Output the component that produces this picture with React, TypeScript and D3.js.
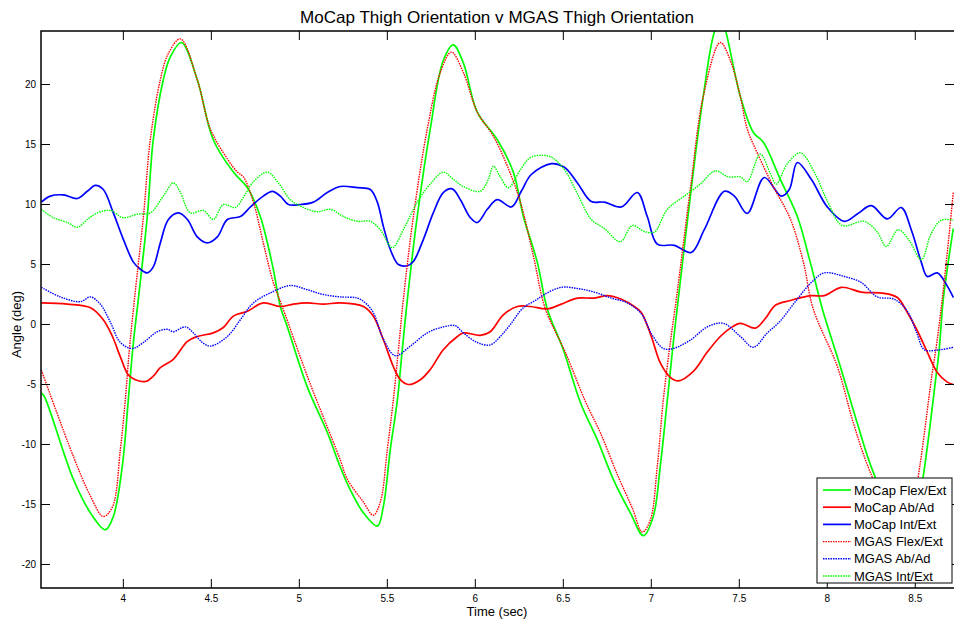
import React from "react";
import * as d3 from "d3";

// samples: [time (sec), angle (deg)]
const flexMocap: [number, number][] = [
  [3.534, -5.7], [3.551, -6.0], [3.716, -12.9], [3.813, -15.7], [3.898, -17.1], [3.943, -16.0],
  [3.994, -11.8], [4.028, -6.3], [4.057, -1.5], [4.085, 2.1], [4.136, 9.0], [4.17, 15.4],
  [4.227, 20.4], [4.267, 22.3], [4.33, 23.5], [4.42, 20.4], [4.511, 15.4], [4.625, 12.7], [4.705, 11.4],
  [4.778, 9.0], [4.852, 4.6], [4.892, 1.5], [4.932, -0.2], [5.045, -5.2], [5.159, -9.0],
  [5.233, -11.9], [5.29, -13.8], [5.364, -15.7], [5.443, -16.8], [5.477, -15.2], [5.517, -10.4],
  [5.557, -6.3], [5.585, -2.1], [5.614, 2.1], [5.67, 9.0], [5.744, 16.3], [5.818, 22.0],
  [5.875, 23.3], [5.932, 21.8], [6.011, 17.7], [6.125, 15.4], [6.216, 12.7], [6.273, 9.0],
  [6.352, 5.2], [6.409, 1.3], [6.5, -2.1], [6.597, -6.5], [6.693, -9.6], [6.784, -12.9],
  [6.881, -15.7], [6.955, -17.6], [7.011, -16.0], [7.051, -11.8], [7.091, -6.3], [7.125, -1.5],
  [7.153, 2.1], [7.222, 10.7], [7.295, 19.0], [7.364, 24.6], [7.4, 25.3], [7.42, 24.6],
  [7.506, 19.0], [7.58, 16.0], [7.636, 15.2], [7.733, 12.1], [7.83, 9.0], [7.903, 5.2],
  [7.972, 1.3], [8.074, -3.5], [8.17, -8.2], [8.261, -12.3], [8.443, -18.0], [8.625, -3.5],
  [8.659, 2.1], [8.716, 8.0],
];

const abadMocap: [number, number][] = [
  [3.534, 1.8], [3.682, 1.7], [3.813, 1.4], [3.886, 0.4], [3.938, -1.0], [3.983, -2.7],
  [4.028, -4.2], [4.068, -4.6], [4.125, -4.75], [4.17, -4.3], [4.21, -3.6], [4.284, -2.9],
  [4.364, -1.4], [4.42, -1.0], [4.511, -0.7], [4.568, -0.25], [4.625, 0.7], [4.705, 1.1],
  [4.795, 1.8], [4.892, 1.5], [4.966, 1.7], [5.045, 1.8], [5.136, 1.7], [5.233, 1.8],
  [5.364, 1.5], [5.42, 0.7], [5.477, -1.25], [5.534, -3.5], [5.574, -4.6], [5.619, -5.0],
  [5.688, -4.6], [5.744, -3.75], [5.818, -2.1], [5.898, -1.0], [5.932, -0.7], [6.028, -0.9],
  [6.085, -0.6], [6.159, 0.8], [6.239, 1.5], [6.312, 1.5], [6.409, 1.3], [6.489, 1.7],
  [6.58, 2.2], [6.676, 2.2], [6.75, 2.4], [6.83, 2.1], [6.903, 1.5], [6.943, 1.0],
  [7.0, -1.0], [7.051, -3.2], [7.108, -4.4], [7.153, -4.7], [7.239, -3.9], [7.318, -2.3],
  [7.392, -1.0], [7.449, -0.3], [7.506, 0.1], [7.591, -0.3], [7.648, 0.5], [7.705, 1.6],
  [7.79, 2.0], [7.909, 2.4], [7.983, 2.4], [8.08, 3.1], [8.193, 2.7], [8.324, 2.6],
  [8.398, 2.25], [8.455, 1.0], [8.511, -0.5], [8.568, -2.3], [8.625, -4.0], [8.682, -4.8],
  [8.716, -5.0],
];

const intextMocap: [number, number][] = [
  [3.534, 10.2], [3.585, 10.7], [3.659, 10.8], [3.739, 10.5], [3.795, 11.1], [3.841, 11.6],
  [3.886, 11.25], [3.943, 9.3], [4.0, 7.1], [4.057, 5.2], [4.097, 4.6], [4.136, 4.3],
  [4.17, 4.8], [4.21, 6.8], [4.256, 8.75], [4.313, 9.3], [4.364, 8.75], [4.42, 7.3],
  [4.477, 6.8], [4.534, 7.3], [4.591, 8.75], [4.665, 9.0], [4.722, 9.8], [4.795, 10.7],
  [4.847, 11.1], [4.892, 10.7], [4.938, 10.0], [5.006, 10.0], [5.08, 10.2], [5.159, 11.0],
  [5.233, 11.5], [5.33, 11.4], [5.403, 11.25], [5.443, 10.2], [5.477, 8.2], [5.517, 6.25],
  [5.563, 5.0], [5.614, 4.9], [5.648, 5.25], [5.705, 7.1], [5.761, 9.3], [5.818, 11.0],
  [5.869, 11.3], [5.915, 10.4], [5.972, 8.9], [6.011, 8.5], [6.068, 9.6], [6.125, 10.4],
  [6.205, 9.8], [6.261, 11.1], [6.318, 12.5], [6.432, 13.4], [6.506, 13.1], [6.58, 11.8],
  [6.659, 10.25], [6.733, 10.2], [6.83, 9.8], [6.92, 11.0], [6.977, 9.0], [7.034, 6.7],
  [7.131, 6.6], [7.227, 6.0], [7.301, 7.9], [7.415, 11.1], [7.472, 10.7], [7.545, 9.25],
  [7.642, 12.25], [7.739, 10.7], [7.784, 11.25], [7.83, 13.5], [7.909, 12.1], [8.0, 9.8],
  [8.097, 8.6], [8.17, 9.2], [8.25, 9.9], [8.341, 8.8], [8.42, 9.75], [8.477, 7.9],
  [8.534, 5.2], [8.568, 4.0], [8.625, 4.3], [8.682, 3.2], [8.716, 2.25],
];

const flexMgas: [number, number][] = [
  [3.534, -3.8], [3.716, -11.0], [3.813, -14.3], [3.886, -16.0], [3.938, -15.2], [3.983, -10.4],
  [4.011, -6.3], [4.034, -2.1], [4.063, 2.1], [4.114, 9.0], [4.153, 15.4], [4.21, 20.4],
  [4.256, 22.6], [4.324, 23.8], [4.42, 20.4], [4.494, 16.3], [4.591, 13.8], [4.648, 12.7], [4.682, 12.3],
  [4.739, 10.2], [4.795, 6.8], [4.852, 3.5], [4.903, 1.5], [5.045, -4.3], [5.136, -7.7],
  [5.233, -11.3], [5.273, -12.9], [5.364, -14.8], [5.42, -15.9], [5.46, -14.8], [5.5, -10.4],
  [5.534, -6.3], [5.563, -2.1], [5.591, 2.1], [5.648, 9.0], [5.727, 16.3], [5.801, 21.0],
  [5.864, 22.7], [5.932, 21.0], [6.011, 17.7], [6.102, 15.7], [6.182, 13.2], [6.256, 10.2],
  [6.33, 5.7], [6.398, 1.3], [6.511, -2.3], [6.625, -6.4], [6.71, -9.0], [6.807, -12.5],
  [6.892, -15.3], [6.949, -17.3], [6.994, -16.3], [7.034, -11.8], [7.068, -6.3], [7.108, -1.5],
  [7.142, 2.1], [7.222, 11.3], [7.295, 19.0], [7.392, 23.5], [7.449, 22.0], [7.506, 19.0],
  [7.545, 16.3], [7.602, 14.3], [7.693, 11.5], [7.79, 8.8], [7.864, 5.2], [7.92, 1.3],
  [8.057, -3.5], [8.148, -8.2], [8.244, -12.3], [8.42, -17.5], [8.602, -3.5], [8.653, 2.1],
  [8.716, 11.0],
];

const abadMgas: [number, number][] = [
  [3.534, 3.1], [3.642, 2.3], [3.756, 1.9], [3.813, 2.3], [3.869, 1.7], [3.926, 0.2],
  [3.983, -1.5], [4.051, -2.0], [4.114, -1.5], [4.193, -0.6], [4.25, -0.4], [4.284, -0.6],
  [4.352, -0.2], [4.398, -0.7], [4.449, -1.5], [4.494, -1.8], [4.591, -1.0], [4.665, 0.4],
  [4.739, 1.8], [4.852, 2.75], [4.949, 3.25], [5.045, 2.9], [5.136, 2.5], [5.233, 2.3],
  [5.33, 2.2], [5.375, 1.8], [5.42, 1.0], [5.477, -1.2], [5.545, -2.6], [5.631, -1.8],
  [5.727, -0.7], [5.818, -0.2], [5.886, -0.1], [5.932, -0.7], [6.011, -1.5], [6.085, -1.7],
  [6.142, -1.0], [6.199, 0.0], [6.273, 1.4], [6.341, 2.0], [6.392, 2.5], [6.489, 3.1],
  [6.58, 3.0], [6.676, 2.7], [6.773, 2.2], [6.864, 1.8], [6.943, 0.9], [7.006, -0.9],
  [7.068, -2.0], [7.125, -2.0], [7.222, -1.3], [7.318, -0.2], [7.409, 0.1], [7.506, -1.0],
  [7.58, -1.9], [7.659, -0.7], [7.727, 0.2], [7.813, 1.8], [7.909, 3.5], [7.983, 4.3],
  [8.097, 4.0], [8.193, 3.5], [8.284, 2.3], [8.381, 2.1], [8.455, 1.1], [8.511, -0.8],
  [8.551, -2.1], [8.642, -2.1], [8.716, -1.9],
];

const intextMgas: [number, number][] = [
  [3.534, 9.6], [3.602, 8.9], [3.682, 8.5], [3.739, 8.1], [3.795, 8.75], [3.852, 9.3],
  [3.926, 9.5], [4.0, 8.9], [4.08, 9.2], [4.153, 9.3], [4.227, 10.7], [4.284, 11.8],
  [4.324, 11.0], [4.381, 9.3], [4.455, 9.5], [4.511, 8.75], [4.568, 10.0], [4.636, 9.75],
  [4.682, 10.6], [4.739, 11.9], [4.818, 12.7], [4.881, 11.8], [4.949, 10.4], [5.023, 9.75],
  [5.102, 9.4], [5.176, 9.6], [5.25, 9.0], [5.33, 8.6], [5.403, 8.6], [5.46, 7.9],
  [5.528, 6.4], [5.591, 7.9], [5.67, 10.2], [5.744, 11.7], [5.818, 12.7], [5.875, 12.1],
  [5.932, 11.5], [6.028, 11.1], [6.074, 12.1], [6.102, 13.2], [6.142, 12.3], [6.188, 11.4],
  [6.256, 12.9], [6.312, 13.9], [6.375, 14.1], [6.438, 13.9], [6.511, 12.8], [6.58, 10.9],
  [6.659, 8.75], [6.733, 8.0], [6.824, 6.9], [6.892, 8.25], [6.96, 7.75], [7.017, 7.7],
  [7.091, 9.6], [7.188, 10.7], [7.278, 11.7], [7.364, 12.8], [7.438, 12.3], [7.506, 12.3],
  [7.545, 11.9], [7.619, 14.2], [7.676, 12.6], [7.71, 11.7], [7.773, 13.4], [7.847, 14.3],
  [7.926, 12.7], [8.0, 10.3], [8.085, 8.25], [8.21, 8.6], [8.284, 7.7], [8.335, 6.5],
  [8.403, 7.9], [8.466, 7.0], [8.534, 5.4], [8.591, 7.6], [8.648, 8.7], [8.716, 8.7],
];

const xTicks = [4, 4.5, 5, 5.5, 6, 6.5, 7, 7.5, 8, 8.5];
const yTicks = [-20, -15, -10, -5, 0, 5, 10, 15, 20];

const series = [
  { name: "MoCap Flex/Ext", data: flexMocap, color: "#00ff00", dotted: false },
  { name: "MoCap Ab/Ad", data: abadMocap, color: "#ff0000", dotted: false },
  { name: "MoCap Int/Ext", data: intextMocap, color: "#0000ff", dotted: false },
  { name: "MGAS Flex/Ext", data: flexMgas, color: "#ff0000", dotted: true },
  { name: "MGAS Ab/Ad", data: abadMgas, color: "#0000ff", dotted: true },
  { name: "MGAS Int/Ext", data: intextMgas, color: "#00ff00", dotted: true },
];

const width = 954,
  height = 622,
  margin = { top: 31, right: 0, bottom: 34, left: 41 };
const font = "'Liberation Sans', Arial, Helvetica, sans-serif";

const App: React.FC = () => {
  const x = d3
    .scaleLinear()
    .domain([3.532, 8.72])
    .range([margin.left, width - margin.right]);
  const y = d3
    .scaleLinear()
    .domain([-21.96, 24.46])
    .range([height - margin.bottom, margin.top]);

  const line = d3
    .line<[number, number]>()
    .x((d) => x(d[0]))
    .y((d) => y(d[1]))
    .curve(d3.curveCatmullRom.alpha(0.5));

  const x0 = margin.left,
    x1 = width - margin.right,
    y0 = margin.top,
    y1 = height - margin.bottom;
  const tickLen = 9;

  // legend box
  const lg = { x: 817, y: 478, w: 135, h: 105 };
  const rowH = 17.2;

  return (
    <svg
      width={width}
      height={height}
      style={{ position: "absolute", left: 0, top: 0, background: "#fff" }}
      fontFamily={font}
    >
      <defs>
        <clipPath id="plotClip">
          <rect x={x0} y={y0} width={x1 - x0} height={y1 - y0} />
        </clipPath>
      </defs>
      <rect x={0} y={0} width={width} height={height} fill="#fff" />

      <text
        x={497}
        y={23}
        textAnchor="middle"
        fontSize={16.5}
        textLength={394}
        lengthAdjust="spacingAndGlyphs"
        fill="#000"
      >
        MoCap Thigh Orientation v MGAS Thigh Orientation
      </text>

      <g clipPath="url(#plotClip)">
        {series.map((s) => (
          <path
            key={s.name}
            d={line(s.data) || ""}
            fill="none"
            stroke={s.color}
            strokeWidth={s.dotted ? 1.4 : 1.7}
            strokeDasharray={s.dotted ? "1.5 1" : undefined}
            strokeLinejoin="round"
          />
        ))}
      </g>

      {/* ticks */}
      <g stroke="#000" strokeWidth={1}>
        {xTicks.map((t) => (
          <g key={"xt" + t}>
            <line x1={x(t)} x2={x(t)} y1={y1} y2={y1 - tickLen} />
            <line x1={x(t)} x2={x(t)} y1={y0} y2={y0 + tickLen} />
          </g>
        ))}
        {yTicks.map((t) => (
          <g key={"yt" + t}>
            <line x1={x0} x2={x0 + tickLen} y1={y(t)} y2={y(t)} />
            <line x1={x1} x2={x1 - tickLen} y1={y(t)} y2={y(t)} />
          </g>
        ))}
      </g>

      {/* box */}
      <path
        d={`M${x1},${y0}H${x0}V${y1}H${x1}`}
        fill="none"
        stroke="#000"
        strokeWidth={1.5}
      />

      {xTicks.map((t) => (
        <text key={"xl" + t} x={x(t)} y={602} textAnchor="middle" fontSize={10} fill="#000">
          {t}
        </text>
      ))}
      {yTicks.map((t) => (
        <text key={"yl" + t} x={36} y={y(t) + 3.5} textAnchor="end" fontSize={10} fill="#000">
          {t}
        </text>
      ))}

      <text x={497} y={616} textAnchor="middle" fontSize={13} fill="#000">
        Time (sec)
      </text>
      <text
        transform={`translate(21,${y(0)}) rotate(-90)`}
        textAnchor="middle"
        fontSize={13}
        fill="#000"
      >
        Angle (deg)
      </text>

      {/* legend */}
      <rect x={lg.x} y={lg.y} width={lg.w} height={lg.h} fill="#fff" stroke="#000" strokeWidth={1} />
      {series.map((s, i) => {
        const cy = lg.y + 12 + i * rowH;
        return (
          <g key={"lg" + s.name}>
            <line
              x1={lg.x + 6}
              x2={lg.x + 34}
              y1={cy}
              y2={cy}
              stroke={s.color}
              strokeWidth={s.dotted ? 1.4 : 1.7}
              strokeDasharray={s.dotted ? "1.5 1" : undefined}
            />
            <text x={lg.x + 37} y={cy + 4.5} fontSize={13} fill="#000">
              {s.name}
            </text>
          </g>
        );
      })}
    </svg>
  );
};

export default App;
